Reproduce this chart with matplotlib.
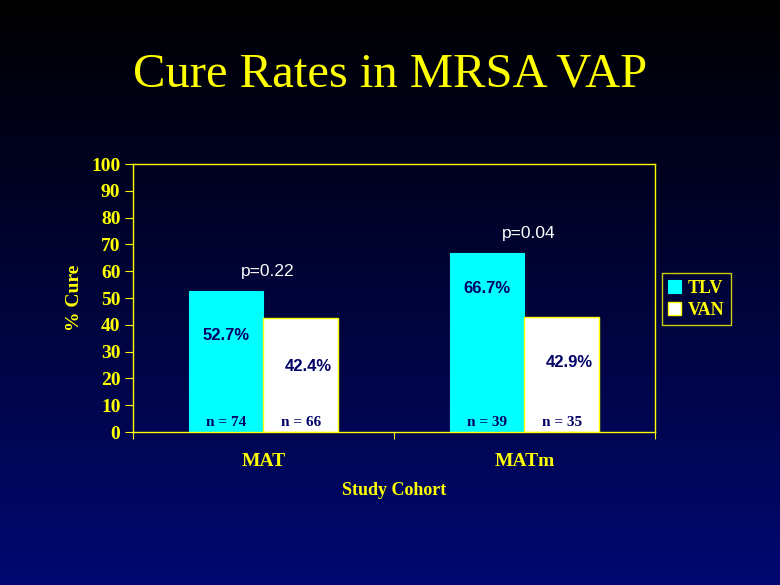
import numpy as np
import matplotlib.pyplot as plt

# ---------- 数据 ----------
cohorts = ["MAT", "MATm"]
tlv_cure = [52.7, 66.7]
van_cure = [42.4, 42.9]
tlv_n = [74, 39]
van_n = [66, 35]
p_values = ["p=0.22", "p=0.04"]
y_ticks = list(range(0, 101, 10))

YELLOW = "#ffff00"
NAVY = "#000066"
SERIF = "Liberation Serif"
SANS = "Liberation Sans"

fig = plt.figure(figsize=(7.8, 5.85), dpi=100)

# 背景渐变（黑 -> 深蓝）
bg = fig.add_axes([0, 0, 1, 1], zorder=-10)
grad = np.linspace(0, 1, 256).reshape(-1, 1)
colors = np.zeros((256, 1, 3))
colors[..., 1] = grad * 0.03
colors[..., 2] = grad * 0.44
bg.imshow(colors, aspect="auto", extent=[0, 1, 0, 1], origin="upper")
bg.axis("off")

fig.text(0.5, 0.872, "Cure Rates in MRSA VAP", ha="center", va="center",
         color=YELLOW, fontsize=35, family=SERIF)

ax = fig.add_axes([0.1705, 0.2615, 0.6692, 0.4581])
ax.patch.set_alpha(0)

x = np.arange(len(cohorts)) + 0.5
w = 0.287
ax.bar(x - w / 2, tlv_cure, w, color="#00ffff", edgecolor="#00ffff", lw=0.8, label="TLV")
ax.bar(x + w / 2, van_cure, w, color="white", edgecolor=YELLOW, lw=1.0, label="VAN")

ax.set_xlim(0, 2)
ax.set_ylim(0, 100)
ax.set_yticks(y_ticks)
ax.set_xticks([0, 1, 2])
ax.set_xticklabels([])
ax.set_xticks(x, minor=True)
ax.set_xticklabels(cohorts, minor=True)
ax.tick_params(axis="x", which="major", direction="out", length=5, color=YELLOW)
ax.tick_params(axis="x", which="minor", length=0, pad=15)
ax.tick_params(axis="y", direction="out", length=6, color=YELLOW, pad=3)
for lab in ax.get_xticklabels(minor=True) + ax.get_yticklabels():
    lab.set_color(YELLOW)
    lab.set_fontweight("bold")
    lab.set_family(SERIF)
    lab.set_fontsize(14)
for s in ax.spines.values():
    s.set_color(YELLOW)
    s.set_linewidth(1.0)

ax.set_ylabel("% Cure", color=YELLOW, fontsize=14, fontweight="bold", family=SERIF, labelpad=6)
ax.set_xlabel("Study Cohort", color=YELLOW, fontsize=13, fontweight="bold", family=SERIF, labelpad=9)

# 数值标签
tlv_lab_y = [36.2, 53.7]
van_lab_y = [24.6, 26.1]
for i in range(len(cohorts)):
    ax.text(x[i] - w / 2, tlv_lab_y[i], f"{tlv_cure[i]}%", ha="center", va="center",
            color=NAVY, fontsize=12, fontweight="bold", family=SANS)
    ax.text(x[i] + w / 2 + 0.03, van_lab_y[i], f"{van_cure[i]}%", ha="center", va="center",
            color=NAVY, fontsize=12, fontweight="bold", family=SANS)
    ax.text(x[i] - w / 2, 3.4, f"n = {tlv_n[i]}", ha="center", va="center",
            color=NAVY, fontsize=11, fontweight="bold", family=SERIF)
    ax.text(x[i] + w / 2, 3.4, f"n = {van_n[i]}", ha="center", va="center",
            color=NAVY, fontsize=11, fontweight="bold", family=SERIF)
    top = max(tlv_cure[i], van_cure[i])
    ax.text(x[i] + 0.015, top + 7.2, p_values[i], ha="center", va="center",
            color="white", fontsize=12.5, family=SANS)

leg = ax.legend(loc="center left", bbox_to_anchor=(1.013, 0.495), frameon=True,
                prop={"family": SERIF, "weight": "bold", "size": 13},
                handlelength=0.7, handleheight=0.7, handletextpad=0.4,
                borderpad=0.35, labelspacing=0.3, fancybox=False, borderaxespad=0)
leg.get_frame().set_facecolor("none")
leg.get_frame().set_edgecolor(YELLOW)
leg.get_frame().set_linewidth(1.0)
for t in leg.get_texts():
    t.set_color(YELLOW)

fig.savefig("out.png", dpi=100)
